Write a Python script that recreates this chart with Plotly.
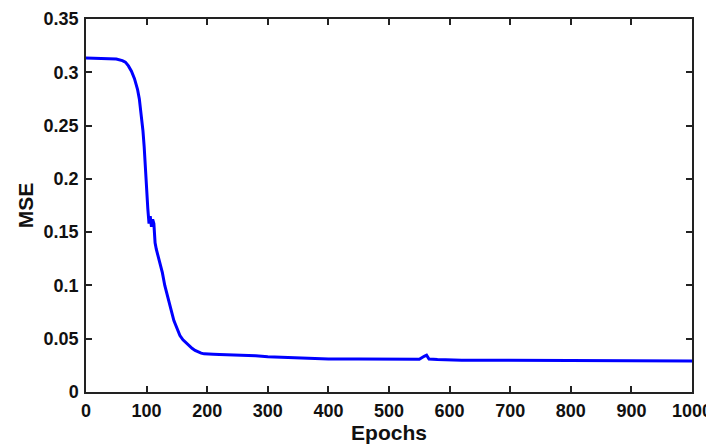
import plotly.graph_objects as go

epochs = [0, 20, 40, 50, 60, 65, 70, 75, 80, 85, 88, 91, 93, 94, 96, 98, 99, 100, 102, 104, 106,
          108, 110, 112, 114, 116, 118, 122, 126, 130, 135, 140, 145, 150, 155, 160, 165,
          170, 175, 180, 185, 190, 195, 200, 210, 220, 240, 260, 280, 300, 350, 400, 450,
          500, 520, 550, 558, 562, 566, 580, 620, 650, 700, 750, 780, 800, 840, 880, 900,
          910, 920, 950, 1000]
mse = [0.3135, 0.3133, 0.3130, 0.3125, 0.3110, 0.3095, 0.3060, 0.3010, 0.2940, 0.2840,
       0.2750, 0.2620, 0.2500, 0.2450, 0.2300, 0.2080, 0.2000, 0.1900, 0.1720, 0.1580,
       0.1650, 0.1550, 0.1620, 0.1580, 0.1400, 0.1340, 0.1300, 0.1220, 0.1120, 0.1000,
       0.0900, 0.0780, 0.0670, 0.0590, 0.0530, 0.0490, 0.0460, 0.0430, 0.0410, 0.0390,
       0.0375, 0.0365, 0.0358, 0.0355, 0.0355, 0.0352, 0.0348, 0.0345, 0.0340, 0.0330,
       0.0322, 0.0310, 0.0310, 0.0312, 0.0307, 0.0307, 0.0335, 0.0345, 0.0310, 0.0305,
       0.0298, 0.0298, 0.0297, 0.0297, 0.0296, 0.0297, 0.0296, 0.0294, 0.0297, 0.0298,
       0.0295, 0.0293, 0.0292]

x_ticks = [0, 100, 200, 300, 400, 500, 600, 700, 800, 900, 1000]
x_tick_labels = ["0", "100", "200", "300", "400", "500", "600", "700", "800", "900", "1000"]
y_ticks = [0, 0.05, 0.1, 0.15, 0.2, 0.25, 0.3, 0.35]
y_tick_labels = ["0", "0.05", "0.1", "0.15", "0.2", "0.25", "0.3", "0.35"]

font_family = "Liberation Sans, Arial, sans-serif"

fig = go.Figure()
fig.add_trace(go.Scatter(x=epochs, y=mse, mode="lines",
                         line=dict(color="#0000ff", width=3), showlegend=False))

axis_common = dict(
    showline=True, linecolor="#222222", linewidth=1.5, mirror="ticks",
    ticks="inside", ticklen=6, tickwidth=1.5, tickcolor="#222222",
    showgrid=False, zeroline=False, automargin=False,
    tickfont=dict(family=font_family, size=18, color="#111111", weight="bold"),
)

# page body has an 8px margin, so the figure is sized/placed to compensate
fig.update_layout(
    width=706, height=438,
    margin=dict(l=78, r=22, t=11, b=54),
    paper_bgcolor="white", plot_bgcolor="white",
    xaxis=dict(range=[0, 1000], tickvals=x_ticks, ticktext=x_tick_labels, ticklabelstandoff=2,
               title=dict(text="Epochs", standoff=0,
                          font=dict(family=font_family, size=21, color="#111111", weight="bold")),
               **axis_common),
    yaxis=dict(range=[0, 0.35], tickvals=y_ticks, ticktext=y_tick_labels, ticklabelstandoff=2,
               title=dict(text="MSE", standoff=4,
                          font=dict(family=font_family, size=21, color="#111111", weight="bold")),
               **axis_common),
)

fig.write_html("out.html")
